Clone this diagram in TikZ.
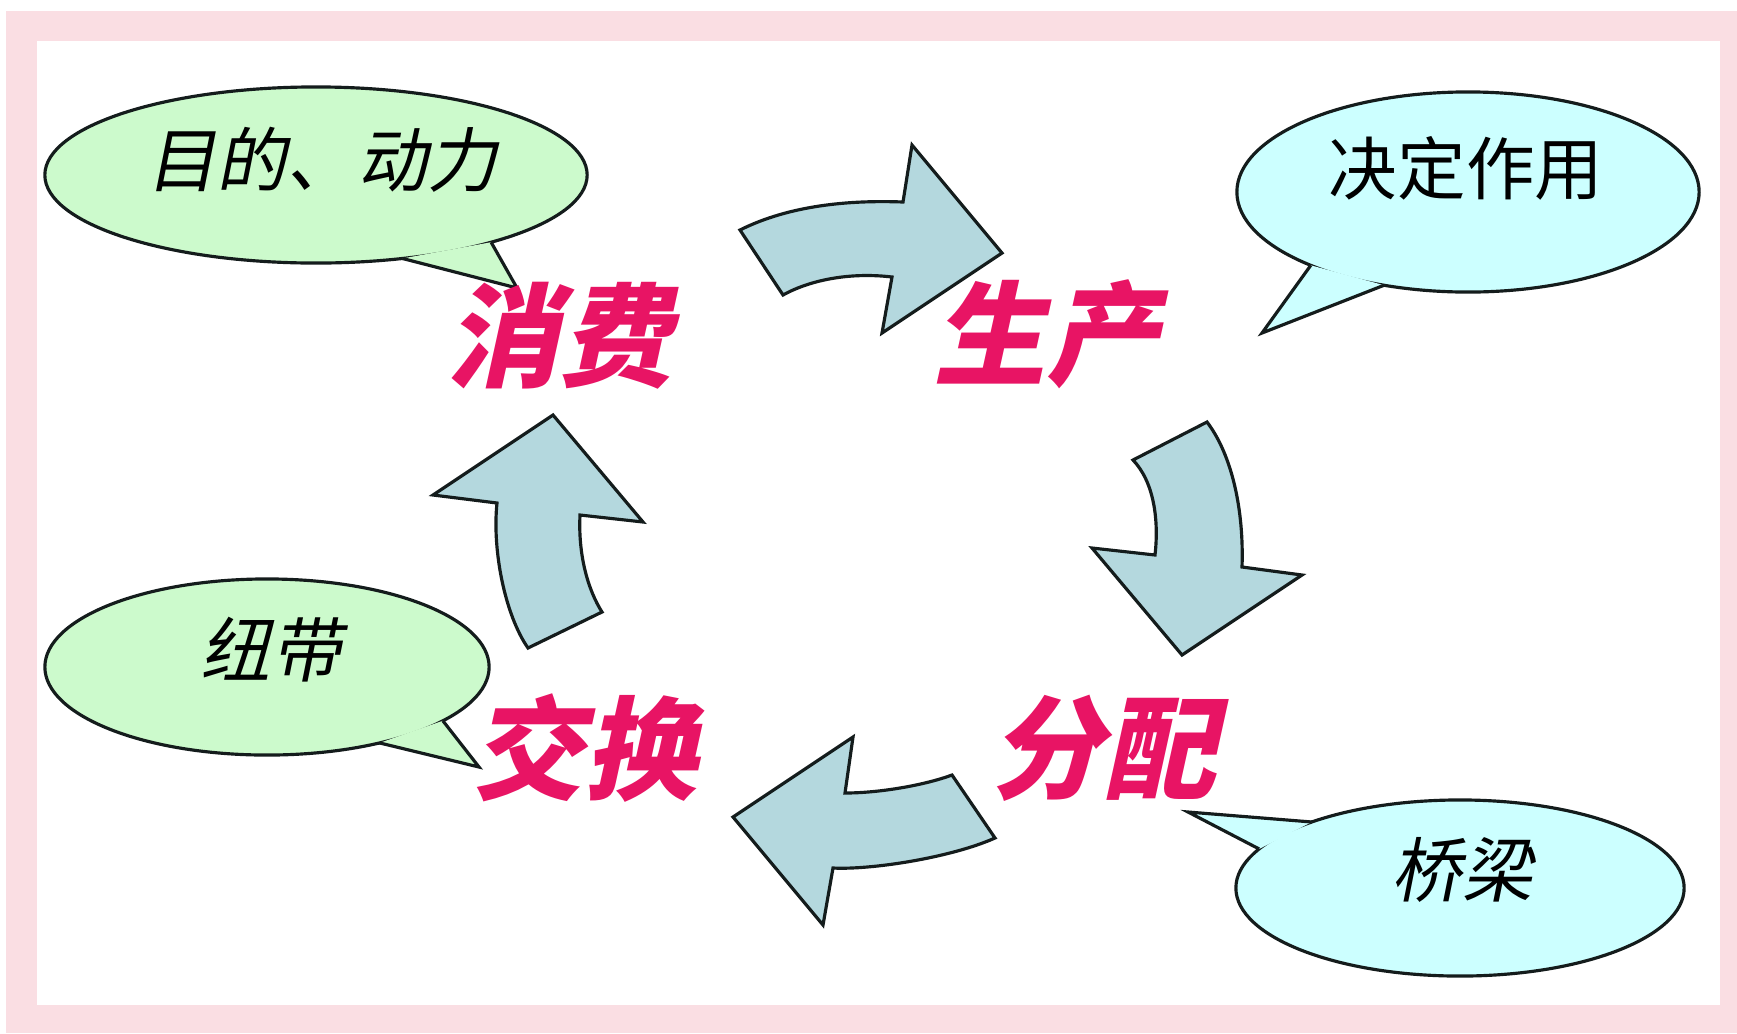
\documentclass[tikz,border=0pt]{standalone}
\usepackage{fontspec}
\usetikzlibrary{shapes.geometric}
\newfontfamily\cjk{Noto Sans CJK SC}
\newfontfamily\cjkit{Noto Sans CJK SC}[FakeSlant=0.2]
\newfontfamily\cjkbi{Noto Sans CJK SC}[FakeSlant=0.22]
\definecolor{pinkbg}{RGB}{250,222,227}
\definecolor{greenfill}{RGB}{204,250,204}
\definecolor{cyanfill}{RGB}{204,255,255}
\definecolor{arrowfill}{RGB}{180,216,222}
\definecolor{stagepink}{RGB}{232,20,100}
\definecolor{outl}{RGB}{20,28,28}
\begin{document}
\begin{tikzpicture}[x=0.01cm,y=-0.01cm,
  bubble/.style={ellipse, draw=outl, line width=0.9pt, inner sep=0pt, outer sep=0pt},
  greenb/.style={bubble, fill=greenfill},
  cyanb/.style={bubble, fill=cyanfill},
  tailline/.style={draw=outl, line width=0.9pt, line join=miter},
  bubtext/.style={font=\cjkit\fontsize{20pt}{24pt}\selectfont, text=black, inner sep=0pt},
  bubtextup/.style={font=\cjk\fontsize{19.5pt}{24pt}\selectfont, text=black, inner sep=0pt},
  stage/.style={font=\cjkbi\bfseries\fontsize{32pt}{36pt}\selectfont, text=stagepink, inner sep=0pt},
  cyc/.style={fill=arrowfill, draw=outl, line width=0.9pt, line join=miter}
]
\useasboundingbox (0,0) rectangle (1737,1033);
\fill[white] (0,0) rectangle (1737,1033);
\fill[pinkbg] (6,11) rectangle (1737,1033);
\fill[white] (37,41) rectangle (1720,1005);

% callouts
\node[greenb, minimum width=5.42cm, minimum height=1.76cm] (b1) at (316,175) {};
\filldraw[tailline, fill=greenfill] (b1.-44) -- (517,288) -- (b1.-21);
\node[bubtext] (t1) at (322,160) {目的、动力};

\node[cyanb, minimum width=4.62cm, minimum height=2.0cm] (b2) at (1468,192) {};
\filldraw[tailline, fill=cyanfill] (b2.-155.7) -- (1262,333) -- (b2.-132);
\node[bubtextup] (t2) at (1466,168) {决定作用};

\node[greenb, minimum width=4.44cm, minimum height=1.76cm] (b3) at (267,667) {};
\filldraw[tailline, fill=greenfill] (b3.-34.8) -- (479,767) -- (b3.-17.5);
\node[bubtext] (t3) at (271,650) {纽带};

\node[cyanb, minimum width=4.48cm, minimum height=1.76cm] (b4) at (1460,888) {};
\filldraw[tailline, fill=cyanfill] (b4.169.9) -- (1188,812) -- (b4.156.7);
\node[bubtext] (t4) at (1462,870) {桥梁};

% stage labels
\node[stage] (xf) at (559,336) {消费};
\node[stage] (sc) at (1046,334) {生产};
\node[stage] (jh) at (584,748) {交换};
\node[stage] (fp) at (1103,748) {分配};

% cycle arrows
\draw[cyc] (740,230) .. controls (790,205) and (850,200) .. (903,202)
  -- (912,145) -- (1002,253) -- (882,333) -- (892,277)
  .. controls (850,272) and (810,280) .. (783,295) -- cycle;

\draw[cyc] (1133,460) -- (1207,422)
  .. controls (1232,455) and (1244,510) .. (1242,567)
  -- (1302,575) -- (1182,655) -- (1092,548) -- (1155,555)
  .. controls (1159,520) and (1154,482) .. (1133,460) -- cycle;

\draw[cyc] (952,775) .. controls (925,785) and (880,793) .. (845,793)
  -- (853,737) -- (733,817) -- (823,925) -- (833,868)
  .. controls (870,870) and (950,858) .. (995,838) -- cycle;

\draw[cyc] (553,415) -- (643,522) -- (580,515)
  .. controls (578,555) and (588,590) .. (602,612)
  -- (528,648) .. controls (505,615) and (492,550) .. (497,503)
  -- (433,495) -- cycle;
\end{tikzpicture}
\end{document}
